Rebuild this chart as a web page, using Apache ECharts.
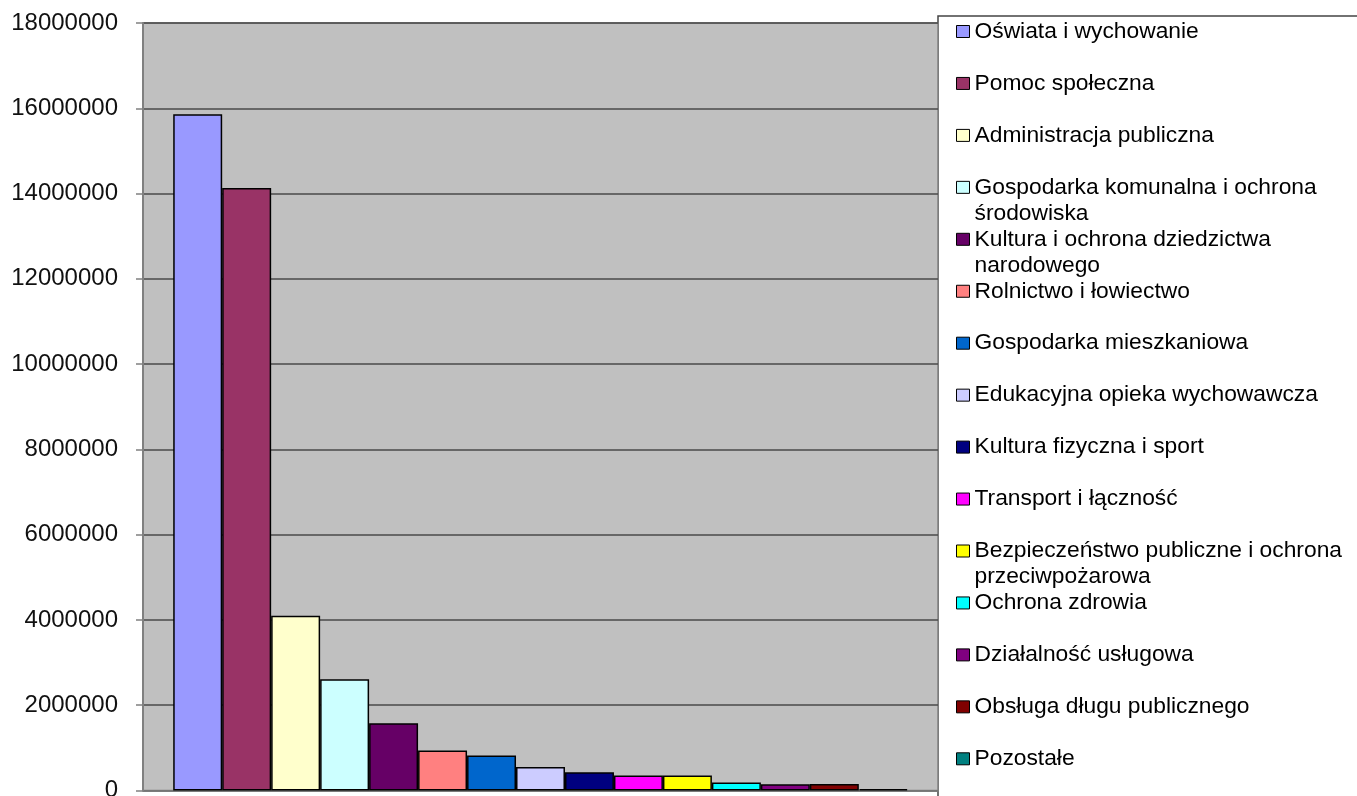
<!DOCTYPE html>
<html>
<head>
<meta charset="utf-8">
<script src="https://cdn.jsdelivr.net/npm/echarts@6/dist/echarts.min.js"></script>
<style>
html,body{margin:0;padding:0;background:#fff;}
#chart{width:1357px;height:796px;}
</style>
</head>
<body>
<div id="chart"></div>
<script>
const seriesNames = [
  'Oświata i wychowanie',
  'Pomoc społeczna',
  'Administracja publiczna',
  'Gospodarka komunalna i ochrona środowiska',
  'Kultura i ochrona dziedzictwa narodowego',
  'Rolnictwo i łowiectwo',
  'Gospodarka mieszkaniowa',
  'Edukacyjna opieka wychowawcza',
  'Kultura fizyczna i sport',
  'Transport i łączność',
  'Bezpieczeństwo publiczne i ochrona przeciwpożarowa',
  'Ochrona zdrowia',
  'Działalność usługowa',
  'Obsługa długu publicznego',
  'Pozostałe'
];
const legendLabels = [
  ['Oświata i wychowanie'],
  ['Pomoc społeczna'],
  ['Administracja publiczna'],
  ['Gospodarka komunalna i ochrona', 'środowiska'],
  ['Kultura i ochrona dziedzictwa', 'narodowego'],
  ['Rolnictwo i łowiectwo'],
  ['Gospodarka mieszkaniowa'],
  ['Edukacyjna opieka wychowawcza'],
  ['Kultura fizyczna i sport'],
  ['Transport i łączność'],
  ['Bezpieczeństwo publiczne i ochrona', 'przeciwpożarowa'],
  ['Ochrona zdrowia'],
  ['Działalność usługowa'],
  ['Obsługa długu publicznego'],
  ['Pozostałe']
];
const seriesValues = [
  15860000, 14130000, 4100000, 2610000, 1580000, 940000, 820000, 550000,
  430000, 350000, 350000, 190000, 145000, 150000, 30000
];
const seriesColors = [
  '#9999FF', '#993366', '#FFFFCC', '#CCFFFF', '#660066', '#FF8080', '#0066CC', '#CCCCFF',
  '#000080', '#FF00FF', '#FFFF00', '#00FFFF', '#800080', '#800000', '#008080'
];
const categories = [''];
const yTicks = { min: 0, max: 18000000, interval: 2000000 };

const chart = echarts.init(document.getElementById('chart'), null, { renderer: 'canvas' });

const FONT = '"Liberation Sans", Arial, sans-serif';
const LEG_FONT = 22.8;
const LEG_LH = 26;
const LEG_Y0 = 31.5;
const LEG_STEP = 51.95;

const series = seriesNames.map((name, i) => ({
  name: name,
  type: 'bar',
  data: [seriesValues[i]],
  barGap: '0%',
  barCategoryGap: '7.6%',
  itemStyle: { color: seriesColors[i], borderColor: '#000', borderWidth: 1.5 },
  emphasis: { disabled: true },
  animation: false
}));

const richStyle = {
  t: { fontFamily: FONT, fontSize: LEG_FONT, color: '#000', lineHeight: LEG_LH },
  e: { fontFamily: FONT, fontSize: LEG_FONT, color: '#000', lineHeight: LEG_LH }
};

const legends = seriesNames.map((name, i) => {
  const lines = legendLabels[i];
  const twoLine = lines.length > 1;
  const yc = LEG_Y0 + i * LEG_STEP;
  return {
    show: true,
    data: [name],
    orient: 'vertical',
    left: 956,
    top: twoLine ? yc - LEG_LH * 1.5 : yc - LEG_LH / 2,
    padding: 0,
    itemWidth: 13,
    itemHeight: 12,
    icon: 'rect',
    itemStyle: { borderColor: '#000', borderWidth: 1 },
    selectedMode: false,
    formatter: () => twoLine
      ? '{e| }\n' + lines.map(l => '{t|' + l + '}').join('\n')
      : '{t|' + lines[0] + '}',
    textStyle: {
      fontFamily: FONT,
      fontSize: LEG_FONT,
      color: '#000',
      lineHeight: LEG_LH,
      rich: richStyle
    }
  };
});

const option = {
  backgroundColor: '#ffffff',
  animation: false,
  grid: {
    left: 143,
    right: 419,
    top: 23,
    bottom: 5.5,
    show: true,
    backgroundColor: '#C0C0C0',
    borderColor: '#808080',
    borderWidth: 1.5,
    containLabel: false,
    outerBoundsMode: 'none'
  },
  graphic: [{
    type: 'rect',
    shape: { x: 938, y: 16, width: 600, height: 900 },
    style: { fill: '#ffffff', stroke: '#444444', lineWidth: 1.5 },
    z: -1
  }],
  legend: legends,
  xAxis: {
    type: 'category',
    data: categories,
    axisLine: { show: true, lineStyle: { color: '#808080', width: 1.5 } },
    axisTick: { show: false },
    axisLabel: { show: false },
    splitLine: { show: false }
  },
  yAxis: {
    type: 'value',
    min: yTicks.min,
    max: yTicks.max,
    interval: yTicks.interval,
    axisLine: { show: true, lineStyle: { color: '#808080', width: 2 } },
    axisTick: { show: true, length: 7, lineStyle: { color: '#808080', width: 1.5 } },
    axisLabel: {
      show: true,
      margin: 25,
      fontFamily: FONT,
      fontSize: 24,
      color: '#111',
      formatter: (v) => String(v)
    },
    splitLine: { show: true, lineStyle: { color: '#4a4a4a', width: 1.5 } }
  },
  tooltip: { show: false },
  series: series
};

chart.setOption(option);
</script>
</body>
</html>
